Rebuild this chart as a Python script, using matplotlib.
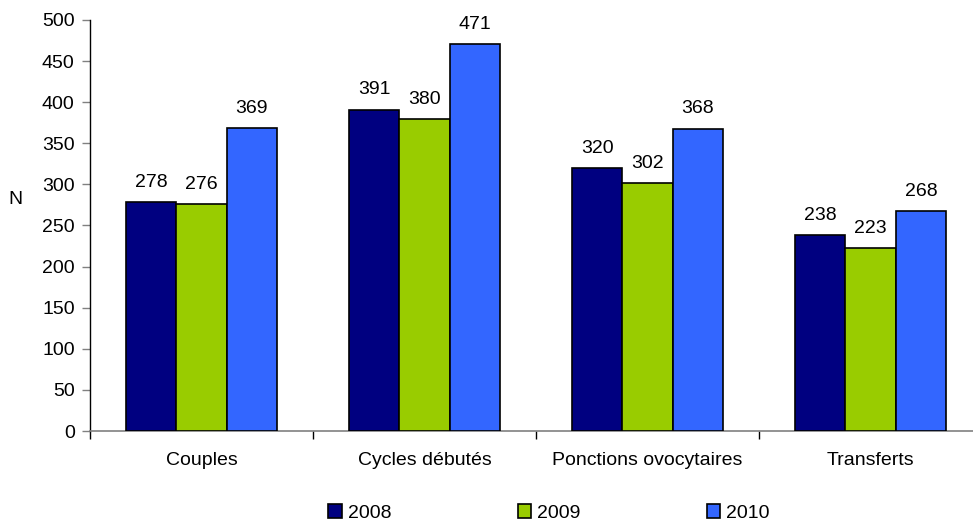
import matplotlib
matplotlib.use("Agg")
import matplotlib.pyplot as plt
import numpy as np

categories = ["Couples", "Cycles débutés", "Ponctions ovocytaires", "Transferts"]
years = ["2008", "2009", "2010"]
values_2008 = [278, 391, 320, 238]
values_2009 = [276, 380, 302, 223]
values_2010 = [369, 471, 368, 268]
series = [values_2008, values_2009, values_2010]
colors = ["#000080", "#99CC00", "#3366FF"]
yticks = list(range(0, 501, 50))

plt.rcParams["font.family"] = ["Liberation Sans", "DejaVu Sans"]
fs = 14

W, H = 973, 522
fig = plt.figure(figsize=(W / 100, H / 100), dpi=100)
# axes box in pixel coordinates (right edge runs slightly past the canvas)
left, right, top, bottom = 90, 982, 20, 431
ax = fig.add_axes([left / W, 1 - bottom / H, (right - left) / W, (bottom - top) / H])

x = np.arange(len(categories))
bw = 0.226
bars = []
for i, (vals, col, yr) in enumerate(zip(series, colors, years)):
    pos = x + (i - 1) * bw
    b = ax.bar(pos, vals, width=bw, color=col, edgecolor="black", linewidth=1.2,
               label=yr, zorder=3)
    bars.append(b)
    for p, v in zip(pos, vals):
        ax.annotate(str(v), (p, v), xytext=(0, 8), textcoords="offset points",
                    ha="center", va="bottom", fontsize=fs, color="black")

ax.set_xlim(-0.5, len(categories) - 0.5)
ax.set_ylim(0, 500)
ax.set_yticks(yticks)
ax.set_yticklabels([str(t) for t in yticks], fontsize=fs)
ax.tick_params(axis="y", length=6, color="#808080", width=1, pad=5)

ax.set_xticks(np.arange(len(categories) + 1) - 0.5)
ax.set_xticklabels([])
ax.set_xticks(x, minor=True)
ax.set_xticklabels(categories, minor=True, fontsize=fs)
ax.tick_params(axis="x", which="major", length=6, color="black", width=1)
ax.tick_params(axis="x", which="minor", length=0, pad=15)

for s in ["top", "right"]:
    ax.spines[s].set_visible(False)
ax.spines["left"].set_color("black")
ax.spines["left"].set_linewidth(1)
ax.spines["bottom"].set_color("#808080")
ax.spines["bottom"].set_linewidth(1.2)

fig.text(15 / W, 1 - 200 / H, "N", fontsize=fs, ha="center", va="center")

leg = fig.legend(handles=bars, labels=years, loc="center", ncol=3,
                 bbox_to_anchor=(549 / W, 1 - 513 / H), frameon=False,
                 fontsize=fs, handlelength=0.7, handleheight=0.7,
                 handletextpad=0.3, columnspacing=6.5)

fig.savefig("out.png", dpi=100)
